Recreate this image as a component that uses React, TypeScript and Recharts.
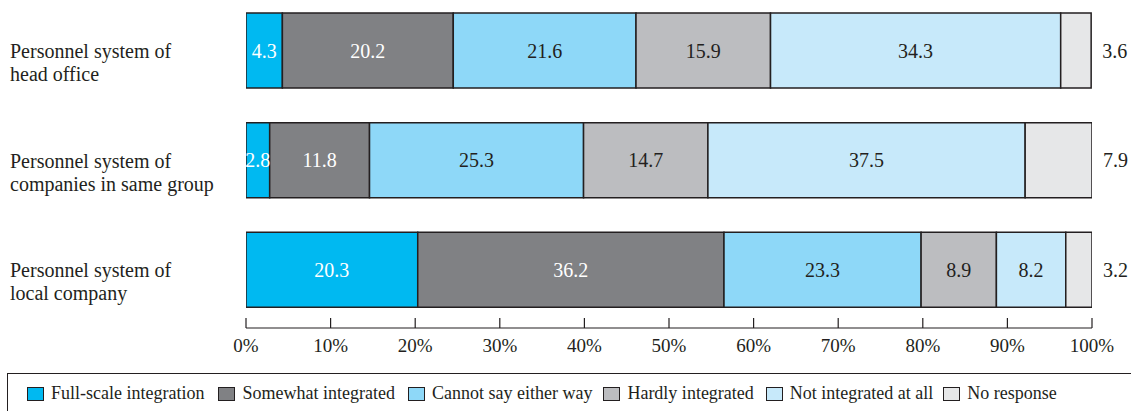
import React from 'react';
import { BarChart, Bar, XAxis, YAxis, LabelList } from 'recharts';

const categories = [
  'Personnel system of head office',
  'Personnel system of companies in same group',
  'Personnel system of local company',
];
const categoryLines = [
  ['Personnel system of', 'head office'],
  ['Personnel system of', 'companies in same group'],
  ['Personnel system of', 'local company'],
];

const fullScale = [4.3, 2.8, 20.3];
const somewhat = [20.2, 11.8, 36.2];
const cannotSay = [21.6, 25.3, 23.3];
const hardly = [15.9, 14.7, 8.9];
const notIntegrated = [34.3, 37.5, 8.2];
const noResponse = [3.6, 7.9, 3.2];

const seriesKeys = ['fullScale', 'somewhat', 'cannotSay', 'hardly', 'notIntegrated', 'noResponse'];
const seriesNames = [
  'Full-scale integration',
  'Somewhat integrated',
  'Cannot say either way',
  'Hardly integrated',
  'Not integrated at all',
  'No response',
];
const seriesColors = ['#00B9F1', '#808184', '#8ED8F8', '#BCBDC0', '#C7E9FA', '#E6E7E8'];
const labelColors = ['#FFFFFF', '#FFFFFF', '#231F20', '#231F20', '#231F20', '#231F20'];

const xTicks = [0, 10, 20, 30, 40, 50, 60, 70, 80, 90, 100];

const data = categories.map((name, i) => ({
  name,
  fullScale: fullScale[i],
  somewhat: somewhat[i],
  cannotSay: cannotSay[i],
  hardly: hardly[i],
  notIntegrated: notIntegrated[i],
  noResponse: noResponse[i],
}));

const FONT = '"Liberation Serif", "Times New Roman", Times, serif';
const INK = '#231F20';

const YTick = (props: any) => {
  const { y, payload } = props;
  const idx = categories.indexOf(payload.value);
  const lines = categoryLines[idx] || [payload.value];
  return (
    <g>
      {lines.map((ln: string, k: number) => (
        <text
          key={k}
          x={10}
          y={y + 7 + k * 23}
          textAnchor="start"
          fontFamily={FONT}
          fontSize={20}
          fill={INK}
        >
          {ln}
        </text>
      ))}
    </g>
  );
};

const XTick = (props: any) => {
  const { x, y, payload } = props;
  return (
    <g>
      <line x1={x} x2={x} y1={y - 10} y2={y} stroke={INK} strokeWidth={1.2} />
      <text x={x} y={y + 24} textAnchor="middle" fontFamily={FONT} fontSize={19} fill={INK}>
        {payload.value}%
      </text>
    </g>
  );
};

const makeLabel = (seriesIndex: number) => (props: any) => {
  const { x, y, width, height, value } = props;
  const outside = seriesIndex === seriesKeys.length - 1;
  const tx = outside ? x + width + 11 : x + width / 2;
  return (
    <text
      x={tx}
      y={y + height / 2 + 7}
      textAnchor={outside ? 'start' : 'middle'}
      fontFamily={FONT}
      fontSize={20}
      fill={labelColors[seriesIndex]}
    >
      {Number(value).toFixed(1)}
    </text>
  );
};

const legendGaps = [14, 13, 11, 12, 10, 0];

const LegendBox = () => (
  <div
    style={{
      position: 'absolute',
      left: 7,
      top: 373,
      width: 1124,
      height: 38,
      boxSizing: 'border-box',
      borderTop: `1.5px solid ${INK}`,
      borderLeft: `1.5px solid ${INK}`,
      display: 'flex',
      alignItems: 'center',
      paddingLeft: 19,
      paddingTop: 2,
      fontFamily: FONT,
      fontSize: 18,
      color: INK,
      whiteSpace: 'nowrap',
    }}
  >
    {seriesNames.map((n, i) => (
      <div key={n} style={{ display: 'flex', alignItems: 'center', marginRight: legendGaps[i] }}>
        <span
          style={{
            display: 'inline-block',
            width: 17,
            height: 14,
            boxSizing: 'border-box',
            background: seriesColors[i],
            border: `1px solid ${INK}`,
            marginRight: 7,
          }}
        />
        <span>{n}</span>
      </div>
    ))}
  </div>
);

export default function App() {
  return (
    <div style={{ position: 'relative', width: 1131, height: 411, background: '#fff', overflow: 'hidden' }}>
      <style>{`html,body{margin:0;padding:0;overflow:hidden;background:#fff}`}</style>
      <BarChart
        width={1131}
        height={372}
        data={data}
        layout="vertical"
        margin={{ top: -4, right: 39, bottom: 0, left: 0 }}
      >
        <XAxis
          type="number"
          domain={[0, 100]}
          ticks={xTicks}
          interval={0}
          height={44}
          tickSize={0}
          tickMargin={0}
          tickLine={false}
          axisLine={{ stroke: INK, strokeWidth: 1.2 }}
          tick={<XTick />}
          allowDataOverflow
        />
        <YAxis
          type="category"
          dataKey="name"
          width={246}
          axisLine={false}
          tickLine={false}
          tick={<YTick />}
          padding={{ top: 0, bottom: 3 }}
          interval={0}
        />
        {seriesKeys.map((k, i) => (
          <Bar
            key={k}
            dataKey={k}
            name={seriesNames[i]}
            stackId="a"
            fill={seriesColors[i]}
            stroke={INK}
            strokeWidth={1.5}
            barSize={75}
            isAnimationActive={false}
          >
            <LabelList dataKey={k} content={makeLabel(i)} />
          </Bar>
        ))}
      </BarChart>
      <LegendBox />
    </div>
  );
}
